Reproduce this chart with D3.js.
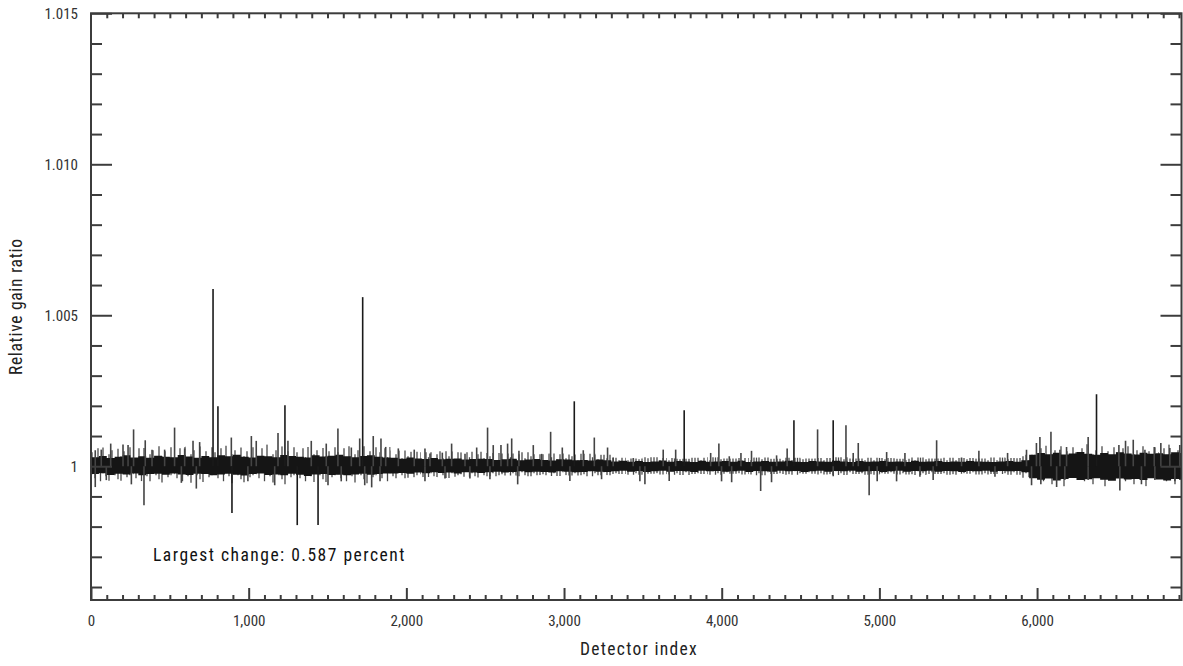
<!DOCTYPE html>
<html><head><meta charset="utf-8">
<script src="https://cdn.jsdelivr.net/npm/d3@7"></script>
<style>body{margin:0;background:#fff}</style></head>
<body>
<svg id="c" width="1183" height="666"></svg>
<script>
// ---- data ----
// dense core of the noise, per 50-detector bin, deviation from 1 in units of 1e-5
const coreBinWidth = 50;
const coreHiDev = [30,34,27,31,36,29,33,28,35,31,30,37,32,28,34,30,36,33,38,31,29,35,33,30,37,34,31,29,36,32,35,38,33,30,34,36,31,29,
 28,25,29,26,24,27,23,25,26,22,24,25,
 24,21,23,25,20,22,24,21,19,23,22,20,21,19,22,20,
 16,18,15,17,14,16,19,15,17,16,14,18,15,16,17,15,18,14,16,17,15,16,18,15,14,17,16,15,18,16,14,17,15,16,17,15,16,14,18,15,16,17,14,16,15,17,16,15,14,16,17,15,
 20,38,44,40,45,39,42,47,41,38,44,40,46,42,39,45,41,43,40,46,44];
const coreLoDev = [-26,-23,-29,-25,-27,-24,-30,-26,-25,-28,-24,-27,-29,-25,-26,-30,-27,-25,-28,-31,-26,-24,-29,-27,-30,-25,-28,-32,-27,-26,-29,-28,-30,-27,-25,-28,-26,-24,
 -24,-22,-25,-21,-23,-20,-22,-21,-24,-20,-21,-22,
 -20,-18,-21,-19,-17,-20,-18,-19,-21,-17,-18,-20,-19,-17,-18,-19,
 -17,-15,-18,-16,-19,-17,-15,-18,-16,-17,-19,-15,-17,-16,-18,-17,-15,-19,-16,-17,-18,-15,-17,-16,-19,-17,-15,-18,-16,-17,-15,-18,-17,-16,-19,-17,-15,-18,-16,-17,-15,-18,-16,-17,-19,-16,-17,-15,-18,-16,-17,-16,
 -20,-40,-45,-41,-47,-42,-39,-46,-43,-40,-45,-48,-41,-44,-42,-46,-40,-44,-47,-42,-45];
// sparse outer fringe of the noise, per 100-detector bin, deviation in 1e-5
const fringeBinWidth = 100;
const fringeHiDev = [62,58,68,60,70,64,66,72,68,62,70,72,66,64,60,70,66,72,64,
 52,48,46,50,46,48, 44,42,46,40,42,39,41,38,
 28,26,30,27,25,28,30,26,27,29,25,28,26,27,30,26,28,27,25,29,26,28,27,26,29,27,
 38,68,72,66,74,70,66,71,68,72,70];
const fringeLoDev = [-52,-48,-56,-50,-54,-58,-55,-52,-56,-53,-58,-54,-60,-55,-52,-58,-54,-56,-52,
 -40,-38,-36,-39,-35,-37, -33,-31,-33,-30,-32,-31,-33,-30,
 -26,-28,-25,-27,-29,-26,-28,-25,-27,-30,-26,-28,-25,-27,-29,-26,-28,-25,-27,-29,-26,-28,-25,-27,-26,-28,
 -38,-68,-72,-66,-71,-69,-74,-67,-70,-68,-71];
// individual spikes: detector index and gain ratio
const spikeIdx = [27,65,125,203,235,270,344,387,467,530,594,647,689,774,805,890,1017,1048,1186,1230,1249,1397,1492,1566,1651,1704,1723,1790,1839,1869,1949,2050,2118,2150,2228,2287,2372,2446,2515,2551,2600,2642,2668,2714,2805,2858,2915,2989,3065,3122,3192,3276,3312,3439,3629,3708,3762,3930,3982,4048,4122,4189,4348,4415,4458,4608,4707,4788,4834,4866,5046,5162,5363,5521,5631,5813,5933,5996,6018,6088,6145,6187,6324,6377,6519,6561,6610,6684,6743,6785,6842,6905,
 27,97,256,336,573,668,894,995,1165,1308,1440,1503,1587,1736,1780,1833,2118,2245,2403,2530,2706,3037,3238,3481,3513,3667,3999,4063,4247,4316,4707,4935,4986,5109,5257,5341,5733,5965,6024,6124,6176,6324,6525,6662,6747,6874];
const spikeVal = [1.00053,1.00055,1.00075,1.00072,1.0007,1.00122,1.00086,1.00055,1.00055,1.00128,1.00059,1.00084,1.0008,1.00587,1.00199,1.00095,1.001,1.00084,1.0011,1.00202,1.00084,1.00084,1.00075,1.00125,1.00062,1.00092,1.0056,1.001,1.00092,1.00064,1.00059,1.00055,1.00059,1.00042,1.00045,1.00075,1.00041,1.00062,1.00128,1.0007,1.0007,1.00075,1.00092,1.00051,1.0007,1.00041,1.00114,1.00062,1.00215,1.00053,1.00095,1.00062,1.00029,1.00027,1.00055,1.00055,1.00185,1.00044,1.00075,1.00033,1.00044,1.00051,1.00036,1.00059,1.00152,1.00122,1.00152,1.00136,1.00044,1.00077,1.00047,1.00044,1.00086,1.00029,1.00051,1.00044,1.00055,1.00077,1.00097,1.00114,1.00055,1.00064,1.00097,1.00238,1.0007,1.00084,1.00088,1.00055,1.00064,1.00077,1.0006,1.0007,
 0.99931,0.99954,0.9994,0.99871,0.99945,0.99926,0.99845,0.9995,0.99937,0.99805,0.99805,0.99937,0.9995,0.99937,0.9993,0.9995,0.9995,0.99959,0.99959,0.99957,0.9994,0.99951,0.99957,0.9995,0.9994,0.99951,0.9995,0.99947,0.99918,0.99947,0.99967,0.99904,0.9995,0.9995,0.99965,0.99954,0.99965,0.99937,0.9994,0.99931,0.99954,0.99954,0.9992,0.9994,0.99954,0.9995];
const xTickLabels = [0,1000,2000,3000,4000,5000,6000];
const yTickLabels = [1.000,1.005,1.010,1.015];
const note = "Largest change: 0.587 percent";
const nDetectors = 6916;

// ---- drawing ----
const svg = d3.select("#c");
const L = 91, R = 1181.5, T = 13.3, B = 600;
const x = d3.scaleLinear([0, nDetectors], [L, R]);
const y = d3.scaleLinear([0.99557, 1.015], [B, T]);
const font = "'Roboto Condensed','Liberation Sans Narrow',sans-serif";
const ink = "#3c3c3c";

const defs = svg.append("defs");
defs.append("clipPath").attr("id","pc").append("rect")
  .attr("x",L).attr("y",T).attr("width",R-L).attr("height",B-T);

// texture for the sparse fringe: short hatch strokes of uneven length around the 1.0 line
const hatchW = 41, hatchH = 60;
const hatch = [[1,14,8],[4,6,12],[7,18,5],[9.5,9,15],[12,22,7],[15,7,10],[18,12,18],[21,16,6],[24,8,9],[27,20,13],[30,10,20],[33,15,7],[36,6,11],[39,19,9]];
const pat = defs.append("pattern").attr("id","fringe").attr("patternUnits","userSpaceOnUse")
  .attr("width",hatchW).attr("height",hatchH).attr("x",L).attr("y",y(1)-hatchH/2);
pat.selectAll("line").data(hatch).join("line")
  .attr("x1",d=>d[0]).attr("x2",d=>d[0])
  .attr("y1",d=>hatchH/2-d[1]).attr("y2",d=>hatchH/2+d[2])
  .attr("stroke","#4a4a4a").attr("stroke-width",1.3);

const g = svg.append("g").attr("clip-path","url(#pc)");

function bandData(w, hi, lo){
  const a = hi.map((h,i)=>({s:i*w, hi:1+h*1e-5, lo:1+lo[i]*1e-5}));
  a.push({s:nDetectors, hi:a[a.length-1].hi, lo:a[a.length-1].lo});
  return a;
}
const areaGen = d3.area().x(d=>x(d.s)).y0(d=>y(d.lo)).y1(d=>y(d.hi)).curve(d3.curveStepAfter);

g.append("path").datum(bandData(fringeBinWidth, fringeHiDev, fringeLoDev))
  .attr("d", areaGen).attr("fill","url(#fringe)");
g.append("path").datum(bandData(coreBinWidth, coreHiDev, coreLoDev))
  .attr("d", areaGen).attr("fill","#151515");

// spikes
const spikes = spikeIdx.map((d,i)=>({d, v:spikeVal[i]}));
g.selectAll("line.sp").data(spikes).join("line").attr("class","sp")
  .attr("x1",d=>x(d.d)).attr("x2",d=>x(d.d))
  .attr("y1",y(1)).attr("y2",d=>y(d.v))
  .attr("stroke",d=>Math.abs(d.v-1)>0.0015?"#1a1a1a":"#444")
  .attr("stroke-width",1.6);

// axes (ticks pointing inward)
const allY = d3.range(0.996, 1.0151, 0.001).map(v=>+v.toFixed(3));
const minorY = allY.filter(v=>!yTickLabels.includes(v));
const fmtY = v => v===1 ? "1" : d3.format(".3f")(v);
function yAxis(gen, tx, size, vals, labels){
  const a = svg.append("g").attr("transform",`translate(${tx},0)`)
    .call(gen(y).tickValues(vals).tickSize(size).tickFormat(labels?fmtY:""));
  a.select(".domain").remove();
  a.selectAll(".tick line").attr("stroke",ink).attr("stroke-width",2);
  return a;
}
yAxis(d3.axisLeft, L, -11, minorY, false);
const yl = yAxis(d3.axisLeft, L, -21, yTickLabels, true);
yl.selectAll(".tick text").attr("x",-13).attr("font-family",font).attr("font-size",15).attr("fill","#333");
yAxis(d3.axisRight, R, -11, minorY, false);
yAxis(d3.axisRight, R, -21, yTickLabels, false);

const xMinor = d3.range(100, nDetectors, 100).filter(v=>v%1000!==0);
function xAxis(gen, ty, size, vals, labels){
  const a = svg.append("g").attr("transform",`translate(0,${ty})`)
    .call(gen(x).tickValues(vals).tickSize(size).tickFormat(labels?d3.format(","):""));
  a.select(".domain").remove();
  a.selectAll(".tick line").attr("stroke",ink).attr("stroke-width",2);
  return a;
}
xAxis(d3.axisBottom, B, -5, xMinor, false);
const xl = xAxis(d3.axisBottom, B, -12, xTickLabels, true);
xl.selectAll(".tick text").attr("y",15).attr("font-family",font).attr("font-size",15).attr("fill","#333");
xAxis(d3.axisTop, T, -5, xMinor.concat(xTickLabels.slice(1)), false);

// frame
svg.append("rect").attr("x",L).attr("y",T).attr("width",R-L).attr("height",B-T)
  .attr("fill","none").attr("stroke",ink).attr("stroke-width",2);

// titles
svg.append("text").attr("x",639).attr("y",655).attr("text-anchor","middle")
  .attr("font-family",font).attr("font-size",17.5).attr("letter-spacing",1.3).attr("fill","#222").text("Detector index");
svg.append("text").attr("transform",`translate(22,${(T+B)/2}) rotate(-90)`).attr("text-anchor","middle")
  .attr("font-family",font).attr("font-size",17.5).attr("letter-spacing",0.7).attr("fill","#222").text("Relative gain ratio");
svg.append("text").attr("x",153).attr("y",561)
  .attr("font-family",font).attr("font-size",17.5).attr("letter-spacing",1.5).attr("fill","#111").text(note);
</script>
</body></html>
